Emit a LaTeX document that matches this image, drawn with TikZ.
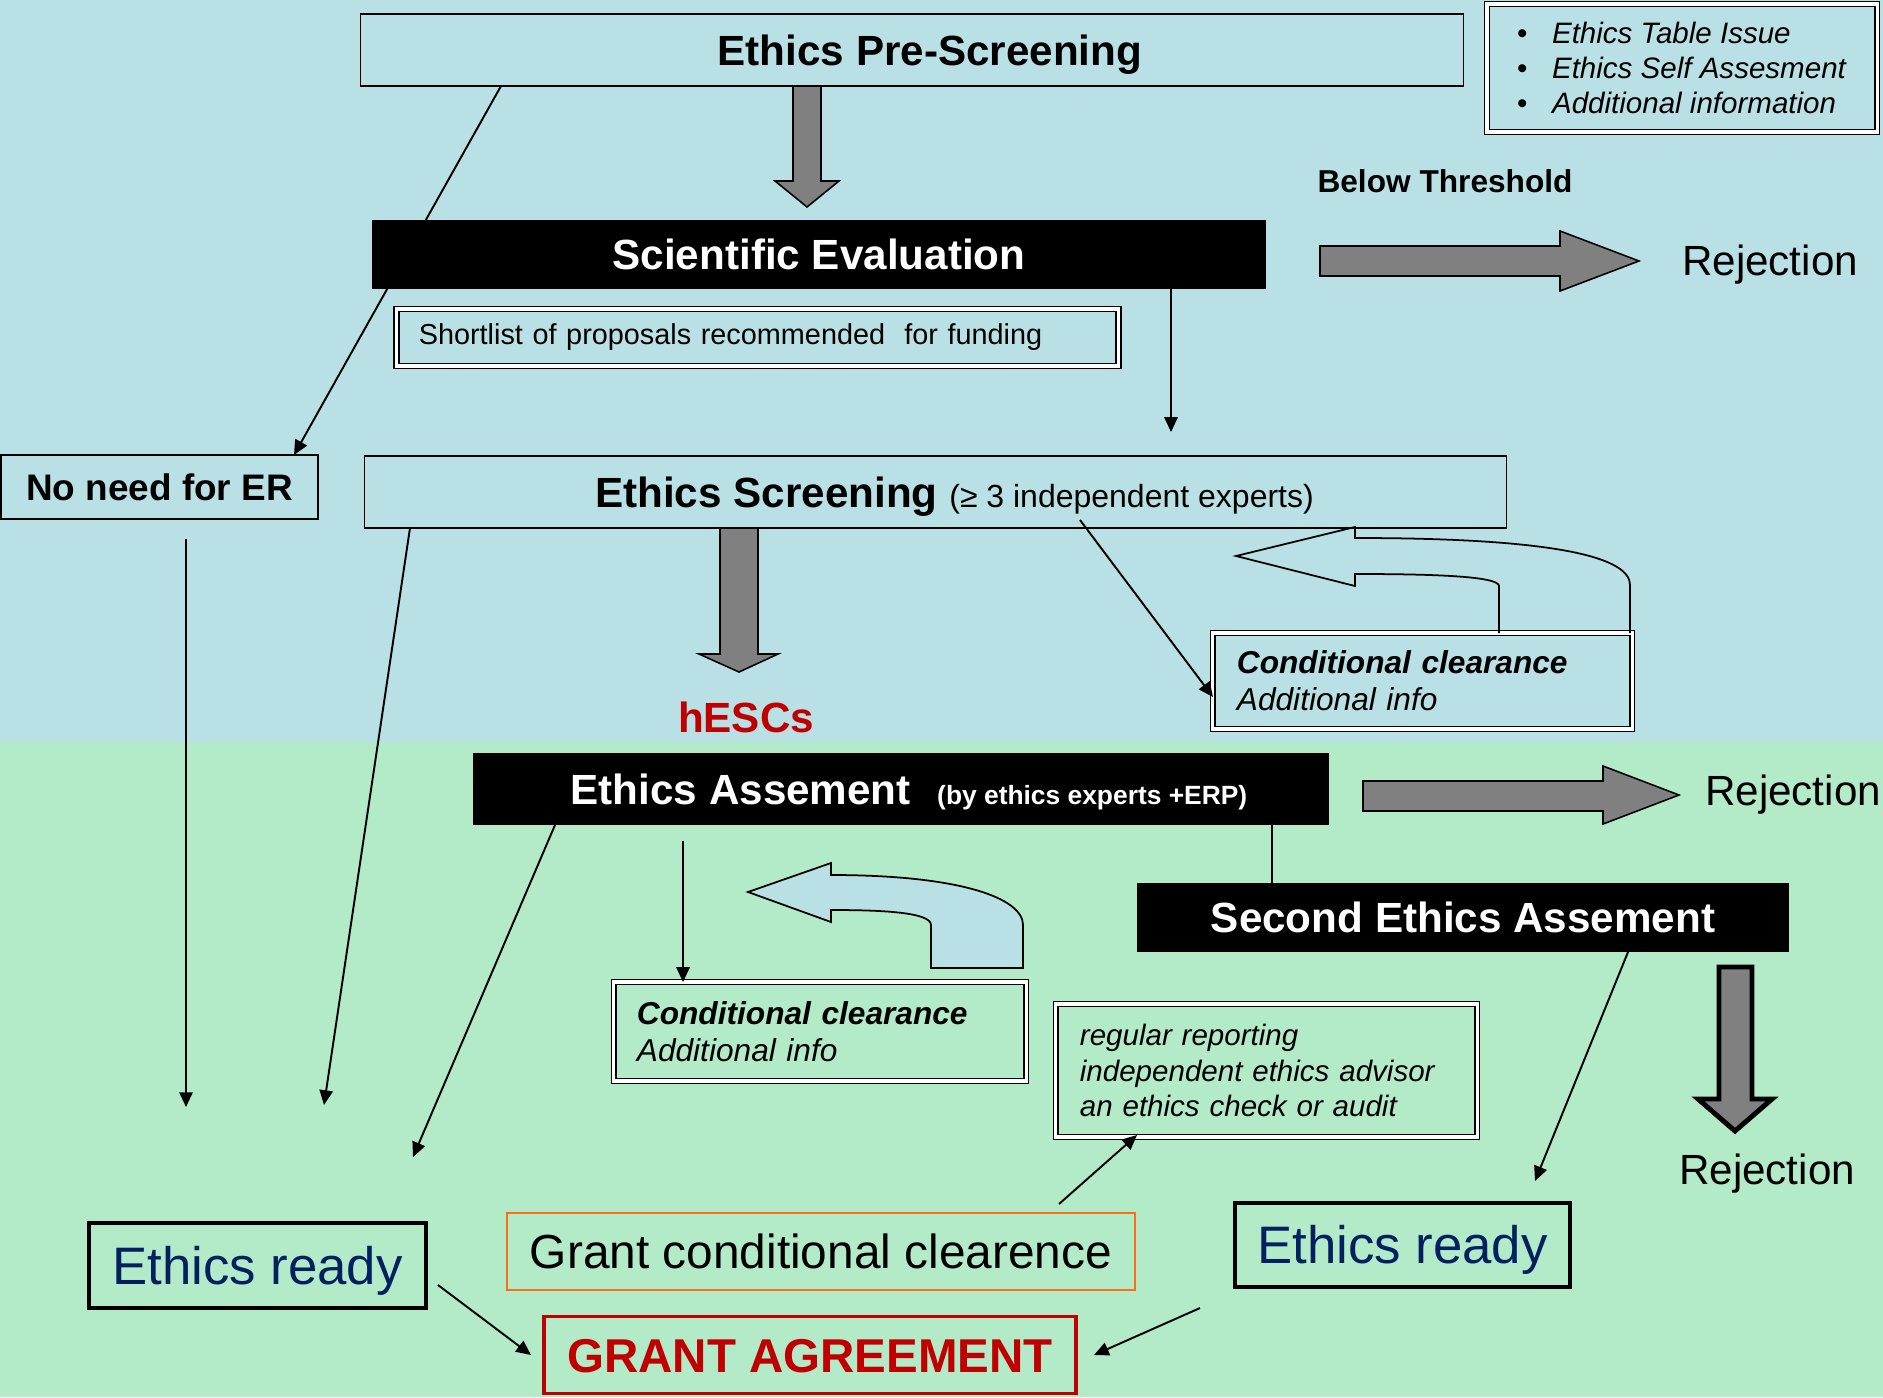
\documentclass[tikz,border=0pt]{standalone}
\usepackage{fontspec}
\setmainfont{Liberation Sans}
\usetikzlibrary{arrows.meta}

\definecolor{topblue}{RGB}{185,224,228}
\definecolor{lowgreen}{RGB}{179,234,199}
\definecolor{arrowgray}{RGB}{128,128,128}
\definecolor{darkred}{RGB}{192,0,0}
\definecolor{navy}{RGB}{0,32,96}
\definecolor{orangeline}{RGB}{250,110,20}

\tikzset{
  capsonly/.style={text height=#1, text depth=0pt},
  capsonly/.default=8.6pt,
  plainbox/.style={draw, line width=0.45pt, inner sep=0pt, capsonly, font=\fontsize{12}{14}\selectfont\bfseries},
  blackbox/.style={fill=black, text=white, inner sep=0pt, capsonly, font=\fontsize{12}{14}\selectfont\bfseries},
  dblbox/.style={draw, double, double distance=0.9pt, line width=0.5pt, inner sep=0pt, align=left},
  readybox/.style={draw, line width=1.1pt, inner sep=0pt, capsonly=10.7pt, text=navy, font=\fontsize{15}{18}\selectfont},
  rejtext/.style={capsonly, font=\fontsize{12}{14}\selectfont},
  conn/.style={line width=0.55pt, -{Triangle[length=4.2pt,width=3.8pt]}},
  fatarrow/.style={draw, line width=0.45pt, fill=arrowgray},
}

\begin{document}
\begin{tikzpicture}[x=0.01cm, y=-0.01cm]
                    \useasboundingbox (0,0) rectangle (1883,1397);
                    % Draw the two background bands
                    \fill[topblue] (0,0) rectangle (1883,742);
                    \fill[lowgreen] (0,742) rectangle (1883,1397);

                    % Boxes of the upper part
                    \node[plainbox, minimum width=11.02cm, minimum height=0.72cm] (pre) at (912,50) {\hspace*{0.36cm}Ethics Pre-Screening};
                    \node[dblbox, minimum width=3.9cm, minimum height=1.28cm, font=\fontsize{8.4}{10}\selectfont] (issues) at (1682,68)
                        {\textbullet\hspace{7pt}\textit{Ethics Table Issue}\\
                         \textbullet\hspace{7pt}\textit{Ethics Self Assesment}\\
                         \textbullet\hspace{7pt}\textit{Additional information}};
                    \node[blackbox, minimum width=8.94cm, minimum height=0.69cm] (sci) at (819,254.5) {Scientific Evaluation};
                    \node[dblbox, minimum width=7.21cm, minimum height=0.57cm, text width=6.77cm, font=\fontsize{8.2}{10}\selectfont] (shortlist) at (757.5,337.5)
                        {Shortlist of proposals recommended \ for funding};
                    \node[capsonly=6.5pt, font=\fontsize{9}{11}\selectfont\bfseries] (below) at (1445,181) {Below Threshold};
                    \node[rejtext] (rej1) at (1770,260) {Rejection};
                    \node[plainbox, capsonly=7.5pt, font=\fontsize{10.5}{12}\selectfont\bfseries, minimum width=3.17cm, minimum height=0.64cm] (noneed) at (159.5,487) {No need for ER};
                    \node[plainbox, minimum width=11.41cm, minimum height=0.72cm] (screen) at (935.5,492)
                        {\hspace*{0.38cm}Ethics Screening {\fontsize{9.1}{11}\selectfont\mdseries (≥ 3 independent experts)}};
                    \node[capsonly, text=darkred, font=\fontsize{12}{14}\selectfont\bfseries] (hescs) at (746,717) {hESCs};
                    \node[dblbox, minimum width=4.19cm, minimum height=0.96cm, text width=3.71cm, font=\fontsize{9}{10.5}\selectfont] (cond1) at (1422.5,681)
                        {\textbf{\textit{Conditional clearance}}\\\textit{Additional info}};

                    % Boxes of the lower part
                    \node[blackbox, minimum width=8.56cm, minimum height=0.72cm] (assess) at (901,789)
                        {\hspace*{0.16cm}Ethics Assement\hspace{7.5pt}{\fontsize{7.5}{9}\selectfont (by ethics experts +ERP)}};
                    \node[rejtext] (rej2) at (1793,790) {Rejection};
                    \node[blackbox, minimum width=6.52cm, minimum height=0.69cm] (second) at (1463,917.5) {Second Ethics Assement};
                    \node[dblbox, minimum width=4.12cm, minimum height=0.99cm, text width=3.66cm, font=\fontsize{9}{10.5}\selectfont] (cond2) at (820,1031.5)
                        {\textbf{\textit{Conditional clearance}}\\\textit{Additional info}};
                    \node[dblbox, minimum width=4.21cm, minimum height=1.33cm, text width=3.73cm, font=\fontsize{8.4}{10}\selectfont\itshape] (report) at (1266.5,1070.5)
                        {regular reporting\\independent ethics advisor\\an ethics check or audit};
                    \node[rejtext] (rej3) at (1767,1169) {Rejection};
                    \node[readybox, minimum width=3.37cm, minimum height=0.85cm] (ready1) at (257.5,1265.5) {Ethics ready};
                    \node[readybox, minimum width=3.35cm, minimum height=0.84cm] (ready2) at (1402.5,1245) {Ethics ready};
                    \node[draw=orangeline, line width=0.7pt, inner sep=0pt, capsonly=9.7pt, minimum width=6.28cm, minimum height=0.77cm, font=\fontsize{13.6}{16}\selectfont] (gcc) at (821,1251.5) {Grant conditional clearence};
                    \node[draw=darkred, line width=1.1pt, inner sep=0pt, capsonly=9.7pt, text=darkred, minimum width=5.32cm, minimum height=0.77cm, font=\fontsize{13.5}{16}\selectfont\bfseries] (ga) at (810,1355) {GRANT AGREEMENT};

                    % Big grey arrows
                    \draw[fatarrow] (793,86) -- (821,86) -- (821,181) -- (839,181) -- (807,207) -- (775,181) -- (793,181) -- cycle;
                    \draw[fatarrow] (1320,246) -- (1560,246) -- (1560,231) -- (1639,261) -- (1560,291) -- (1560,276) -- (1320,276) -- cycle;
                    \draw[fatarrow] (720,528) -- (758,528) -- (758,654) -- (778,654) -- (739,672) -- (699,654) -- (720,654) -- cycle;
                    \draw[fatarrow] (1363,781) -- (1603,781) -- (1603,766) -- (1679,795) -- (1603,824) -- (1603,811) -- (1363,811) -- cycle;
                    \draw[fatarrow, line width=1.4pt] (1719,967) -- (1752,967) -- (1752,1099) -- (1772,1099) -- (1735,1131) -- (1698,1099) -- (1719,1099) -- cycle;

                    % Turn-back arrows over the conditional clearances
                    \draw[line width=0.5pt] (1499,633) -- (1499,586) .. controls (1499,576) and (1430,574) .. (1355,574) -- (1355,586) -- (1236,556) -- (1355,527) -- (1355,538) .. controls (1560,538) and (1630,558) .. (1630,585) -- (1630,633);
                    \draw[line width=0.5pt, fill=topblue] (931,968) -- (931,925) .. controls (931,912) and (880,910) .. (831,910) -- (831,922) -- (748,892) -- (831,863) -- (831,875) .. controls (960,875) and (1023,898) .. (1023,925) -- (1023,968) -- cycle;

                    % End points of the thin connectors
                    \coordinate (preleft) at (501,86);
                    \coordinate (noneedtop) at (294,455);
                    \coordinate (scibottom) at (1171,289);
                    \coordinate (scidrop) at (1171,432);
                    \coordinate (noneedbelow) at (186,539);
                    \coordinate (drop1) at (186,1107);
                    \coordinate (screenleft) at (410,528);
                    \coordinate (drop2) at (324,1105);
                    \coordinate (screenexp) at (1080,520);
                    \coordinate (cond1in) at (1213,697);
                    \coordinate (assessleft) at (555,825);
                    \coordinate (drop3) at (413,1157);
                    \coordinate (assessdrop) at (683,841);
                    \coordinate (cond2top) at (683,982);
                    \coordinate (assesslink) at (1272,825);
                    \coordinate (secondlink) at (1272,883);
                    \coordinate (secondright) at (1628,952);
                    \coordinate (drop4) at (1535,1181);
                    \coordinate (gccout) at (1059,1204);
                    \coordinate (reportin) at (1137,1135);
                    \coordinate (ready1out) at (438,1285);
                    \coordinate (galeft) at (531,1355);
                    \coordinate (ready2out) at (1200,1308);
                    \coordinate (garight) at (1094,1355);

                    % Thin connectors
                    \draw[conn] (preleft) -- (noneedtop);
                    \draw[conn] (scibottom) -- (scidrop);
                    \draw[conn] (noneedbelow) -- (drop1);
                    \draw[conn] (screenleft) -- (drop2);
                    \draw[conn] (screenexp) -- (cond1in);
                    \draw[conn] (assessleft) -- (drop3);
                    \draw[conn] (assessdrop) -- (cond2top);
                    \draw[line width=0.55pt] (assesslink) -- (secondlink);
                    \draw[conn] (secondright) -- (drop4);
                    \draw[conn] (gccout) -- (reportin);
                    \draw[conn] (ready1out) -- (galeft);
                    \draw[conn] (ready2out) -- (garight);

                \end{tikzpicture}
\end{document}
